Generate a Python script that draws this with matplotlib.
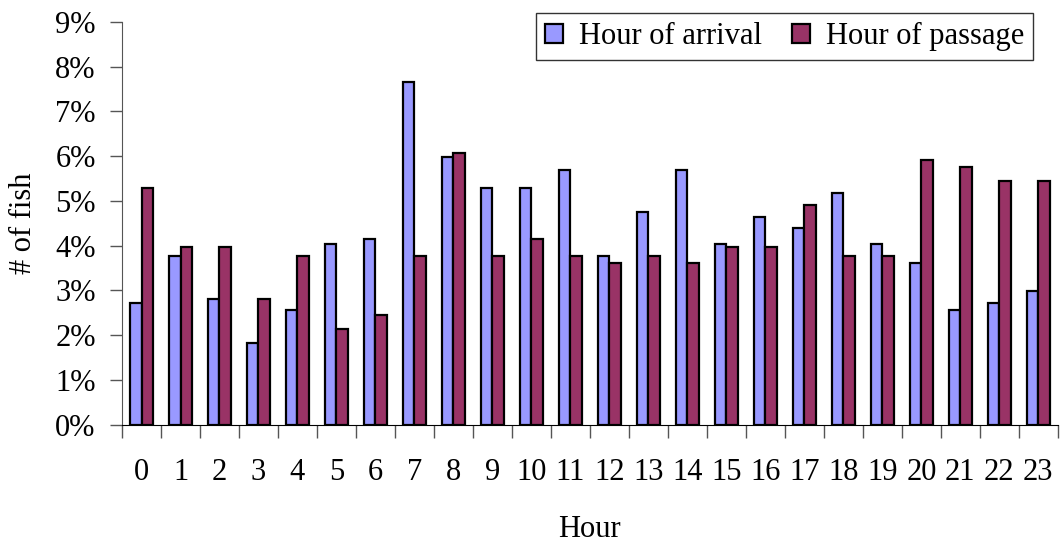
import numpy as np
import matplotlib.pyplot as plt
from matplotlib.ticker import FuncFormatter, FixedLocator

hours = list(range(24))
# share of fish per hour, in percent
arrival = [2.72, 3.76, 2.82, 1.83, 2.56, 4.03, 4.14, 7.65, 5.97, 5.28, 5.28, 5.70,
           3.76, 4.76, 5.70, 4.03, 4.65, 4.40, 5.18, 4.03, 3.61, 2.56, 2.72, 2.98]
passage = [5.28, 3.97, 3.97, 2.82, 3.76, 2.14, 2.46, 3.76, 6.07, 3.76, 4.14, 3.76,
           3.61, 3.76, 3.61, 3.97, 3.97, 4.92, 3.76, 3.76, 5.91, 5.76, 5.44, 5.44]

plt.rcParams['font.family'] = ['Liberation Serif', 'DejaVu Serif']
plt.rcParams['font.size'] = 22

fig = plt.figure(figsize=(10.61, 5.44), dpi=100)
ax = fig.add_axes([0.115, 0.219, 0.882, 0.741])

x = np.arange(len(hours))
w = 0.3
ax.bar(x - w / 2, arrival, w, color='#9999ff', edgecolor='black', linewidth=1.6,
       label='Hour of arrival')
ax.bar(x + w / 2, passage, w, color='#993366', edgecolor='black', linewidth=1.6,
       label='Hour of passage')

ax.set_xlim(-0.5, len(hours) - 0.5)
ax.set_ylim(0, 9)
ax.set_yticks(range(10))
ax.yaxis.set_major_formatter(FuncFormatter(lambda v, p: f'{int(v)}%'))

# labels sit under each group, ticks sit between groups
ax.set_xticks(x)
ax.set_xticklabels([str(h) for h in hours])
ax.tick_params(axis='x', which='major', length=0, pad=24)
ax.xaxis.set_minor_locator(FixedLocator(np.arange(-0.5, len(hours), 1)))
ax.tick_params(axis='x', which='minor', length=9, width=1, direction='out', color='#555555')
ax.tick_params(axis='y', length=9, width=1, direction='out', pad=10, color='#555555')

ax.spines['top'].set_visible(False)
ax.spines['right'].set_visible(False)
ax.spines['left'].set_color('#555555')
ax.spines['bottom'].set_color('black')

ax.set_xlabel('Hour', labelpad=20)
ax.set_ylabel('# of fish', labelpad=12)

leg = ax.legend(loc='upper right', ncol=2, bbox_to_anchor=(0.99, 1.06), frameon=True,
                fancybox=False, edgecolor='black', handlelength=0.6, handleheight=0.6,
                handletextpad=0.5, columnspacing=1.0, borderpad=0.3)
leg.get_frame().set_linewidth(1.0)

fig.savefig('out.png', dpi=100)
